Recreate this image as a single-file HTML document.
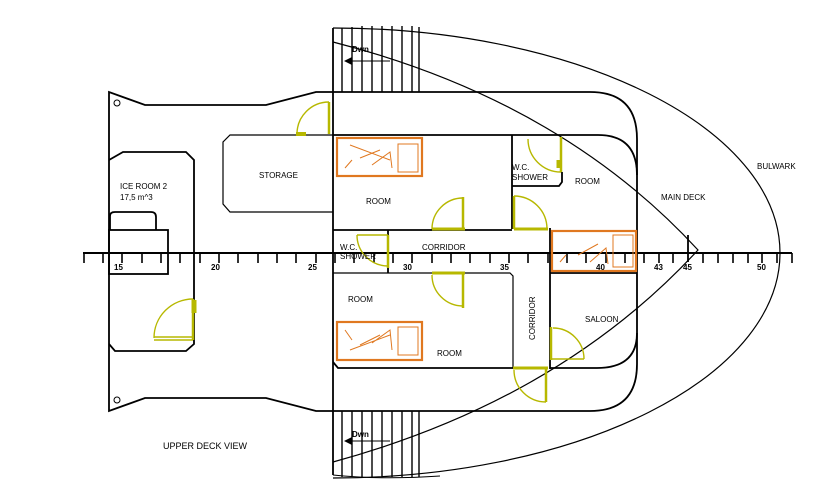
<!DOCTYPE html>
<html><head><meta charset="utf-8"><style>
html,body{margin:0;padding:0;background:#fff;}
svg{display:block;}
text{font-family:"Liberation Sans",sans-serif;font-size:8px;fill:#000;}
</style></head><body>
<svg width="825" height="501" viewBox="0 0 825 501" xmlns="http://www.w3.org/2000/svg">
<g fill="none" stroke="#000" stroke-width="1.8">
<path d="M333,28 A447,225 0 0 1 333,478" stroke-width="1.2"/>
<path d="M333,42 Q560,100 698,250 Q560,400 333,462" stroke-width="1.2"/>
<line x1="688" y1="235" x2="688" y2="262"/>
<path d="M333,92 L316,92 L266,105 L145,105 L109,92 L109,411 L145,398 L266,398 L316,411 L333,411"/>
<line x1="333" y1="28" x2="333" y2="475"/>
<path d="M109,160 L123,152 L186,152 L194,160 L194,344 L186,351 L115,351 L109,344"/>
<rect x="109" y="230" width="59" height="44"/>
<path d="M110,230 L110,216 Q110,212 115,212 L151,212 Q156,212 156,217 L156,230"/>
<path d="M333,135 L230,135 L223,142 L223,204 L230,212 L333,212" stroke-width="1.2"/>
<path d="M333,92 L590,92 Q637,92 637,139 L637,364 Q637,411 590,411 L333,411"/>
<path d="M333,135 L598,135 Q637,135 637,175"/>
<line x1="512" y1="135" x2="512" y2="229"/>
<path d="M512,186 L559,186 L562,182 L562,172"/>
<line x1="333" y1="230" x2="512" y2="230"/>
<line x1="550" y1="228" x2="550" y2="369"/>
<line x1="550" y1="273" x2="637" y2="273"/>
<path d="M333,273 L510,273 L513,276 L513,368" stroke-width="1.2"/>
<path d="M333,362 L338,368 L513,368"/>
<path d="M550,368 L597,368 Q637,368 637,333"/>
<line x1="388" y1="230" x2="388" y2="273"/>
<g stroke-width="1.4">
<line x1="342" y1="28" x2="342" y2="92"/><line x1="352" y1="27" x2="352" y2="92"/>
<line x1="362" y1="26" x2="362" y2="92"/><line x1="372" y1="26" x2="372" y2="92"/>
<line x1="382" y1="26" x2="382" y2="92"/><line x1="392" y1="26" x2="392" y2="92"/>
<line x1="402" y1="26" x2="402" y2="92"/><line x1="412" y1="26" x2="412" y2="92"/>
<line x1="419" y1="27" x2="419" y2="92"/>
<line x1="342" y1="411" x2="342" y2="477"/><line x1="352" y1="411" x2="352" y2="477"/>
<line x1="362" y1="411" x2="362" y2="477"/><line x1="372" y1="411" x2="372" y2="477"/>
<line x1="382" y1="411" x2="382" y2="477"/><line x1="392" y1="411" x2="392" y2="477"/>
<line x1="402" y1="411" x2="402" y2="477"/><line x1="412" y1="411" x2="412" y2="477"/>
<line x1="419" y1="411" x2="419" y2="477"/>
<path d="M333,475 Q380,480 440,476" stroke-width="1"/>
</g>
<line x1="348" y1="61" x2="390" y2="61" stroke-width="1"/>
<line x1="348" y1="441" x2="390" y2="441" stroke-width="1"/>
<line x1="83" y1="253" x2="792" y2="253" stroke-width="2"/>
</g>
<polygon points="344,61 352,57 352,65" fill="#000"/>
<polygon points="344,441 352,437 352,445" fill="#000"/>
<g stroke="#000" stroke-width="1.6">
<line x1="84" y1="253" x2="84" y2="263"/><line x1="103" y1="253" x2="103" y2="263"/>
<line x1="122" y1="253" x2="122" y2="263"/><line x1="142" y1="253" x2="142" y2="263"/>
<line x1="161" y1="253" x2="161" y2="263"/><line x1="180" y1="253" x2="180" y2="263"/>
<line x1="200" y1="253" x2="200" y2="263"/><line x1="219" y1="253" x2="219" y2="263"/>
<line x1="238" y1="253" x2="238" y2="263"/><line x1="258" y1="253" x2="258" y2="263"/>
<line x1="277" y1="253" x2="277" y2="263"/><line x1="296" y1="253" x2="296" y2="263"/>
<line x1="316" y1="253" x2="316" y2="263"/><line x1="335" y1="253" x2="335" y2="263"/>
<line x1="354" y1="253" x2="354" y2="263"/><line x1="374" y1="253" x2="374" y2="263"/>
<line x1="393" y1="253" x2="393" y2="263"/><line x1="412" y1="253" x2="412" y2="263"/>
<line x1="432" y1="253" x2="432" y2="263"/><line x1="451" y1="253" x2="451" y2="263"/>
<line x1="470" y1="253" x2="470" y2="263"/><line x1="490" y1="253" x2="490" y2="263"/>
<line x1="509" y1="253" x2="509" y2="263"/><line x1="528" y1="253" x2="528" y2="263"/>
<line x1="548" y1="253" x2="548" y2="263"/><line x1="567" y1="253" x2="567" y2="263"/>
<line x1="586" y1="253" x2="586" y2="263"/><line x1="606" y1="253" x2="606" y2="263"/>
<line x1="625" y1="253" x2="625" y2="263"/><line x1="644" y1="253" x2="644" y2="263"/>
<line x1="659" y1="253" x2="659" y2="263"/><line x1="673" y1="253" x2="673" y2="263"/>
<line x1="703" y1="253" x2="703" y2="263"/><line x1="718" y1="253" x2="718" y2="263"/>
<line x1="733" y1="253" x2="733" y2="263"/><line x1="748" y1="253" x2="748" y2="263"/>
<line x1="762" y1="253" x2="762" y2="263"/><line x1="777" y1="253" x2="777" y2="263"/>
<line x1="792" y1="253" x2="792" y2="263"/>
</g>
<g style="font-weight:bold;font-size:8px">
<text x="114" y="270">15</text><text x="211" y="270">20</text><text x="308" y="270">25</text>
<text x="403" y="270">30</text><text x="500" y="270">35</text><text x="596" y="270">40</text>
<text x="654" y="270">43</text><text x="683" y="270">45</text><text x="757" y="270">50</text>
</g>
<g fill="none" stroke="#e07820" stroke-width="1">
<rect x="337" y="138" width="85" height="38" stroke-width="2.2"/><rect x="398" y="144" width="20" height="28"/>
<path d="M345,168 L352,160 M360,158 L380,150 M372,165 L390,152 L392,168 M350,145 L390,160"/>
<rect x="337" y="322" width="85" height="38" stroke-width="2.2"/><rect x="398" y="327" width="20" height="28"/>
<path d="M345,330 L352,340 M360,345 L380,335 M372,343 L390,330 L392,350 M350,350 L390,335"/>
<rect x="552" y="231" width="84" height="40" stroke-width="2.2"/><rect x="613" y="235" width="20" height="32"/>
<path d="M560,262 L566,255 M578,255 L598,244 M590,262 L606,248 L608,264"/>
</g>
<g fill="none" stroke="#b7b800" stroke-width="1.4">
<path d="M297,134 A32,32 0 0 1 329,102"/><line x1="329" y1="102" x2="329" y2="134" stroke-width="2.5"/><line x1="296" y1="134" x2="306" y2="134" stroke-width="4"/>
<path d="M432,229 A31,31 0 0 1 463,198"/><line x1="463" y1="197" x2="463" y2="229" stroke-width="2.5"/><line x1="432" y1="229" x2="465" y2="229" stroke-width="3"/>
<path d="M528,139 A33,33 0 0 0 561,172"/><line x1="561" y1="137" x2="561" y2="172" stroke-width="2.5"/><line x1="559" y1="160" x2="559" y2="168" stroke-width="5"/>
<path d="M514,196 A33,33 0 0 1 547,229"/><line x1="514" y1="196" x2="514" y2="229" stroke-width="2.5"/><line x1="514" y1="229" x2="548" y2="229" stroke-width="3"/>
<path d="M357,235 A31,31 0 0 0 388,266"/><line x1="388" y1="235" x2="388" y2="268" stroke-width="2.5"/><line x1="357" y1="235" x2="388" y2="235"/>
<path d="M432,275 A31,31 0 0 0 463,306"/><line x1="463" y1="273" x2="463" y2="308" stroke-width="2.5"/><line x1="432" y1="273" x2="465" y2="273" stroke-width="3"/>
<path d="M553,328 A31,31 0 0 1 584,359"/><line x1="551" y1="327" x2="551" y2="360" stroke-width="2.5"/><line x1="551" y1="359" x2="584" y2="359"/>
<path d="M514,370 A32,32 0 0 0 546,402"/><line x1="546" y1="368" x2="546" y2="402" stroke-width="2.5"/><line x1="513" y1="368" x2="548" y2="368" stroke-width="3"/>
<path d="M154,338 A39,39 0 0 1 193,299"/><line x1="193" y1="299" x2="193" y2="340" stroke-width="2.5"/><line x1="154" y1="337" x2="193" y2="337"/><line x1="154" y1="340" x2="193" y2="340"/><line x1="194" y1="300" x2="194" y2="313" stroke-width="5"/>
</g>
<text x="120" y="189">ICE ROOM 2</text>
<text x="120" y="200">17,5 m^3</text>
<text x="259" y="178">STORAGE</text>
<text x="366" y="204">ROOM</text>
<text x="512" y="170">W.C.</text>
<text x="512" y="180">SHOWER</text>
<text x="575" y="184">ROOM</text>
<text x="661" y="200">MAIN DECK</text>
<text x="757" y="169">BULWARK</text>
<text x="422" y="250">CORRIDOR</text>
<text x="340" y="250">W.C.</text>
<text x="340" y="259">SHOWER</text>
<text x="348" y="302">ROOM</text>
<text x="437" y="356">ROOM</text>
<text x="585" y="322">SALOON</text>
<text transform="translate(535,340) rotate(-90)">CORRIDOR</text>
<text x="352" y="52" style="font-weight:bold">Dwn</text>
<text x="352" y="437" style="font-weight:bold">Dwn</text>
<text x="163" y="449" style="font-size:9px">UPPER DECK VIEW</text>
<circle cx="117" cy="103" r="3" fill="none" stroke="#000"/>
<circle cx="117" cy="400" r="3" fill="none" stroke="#000"/>
</svg>
</body></html>
